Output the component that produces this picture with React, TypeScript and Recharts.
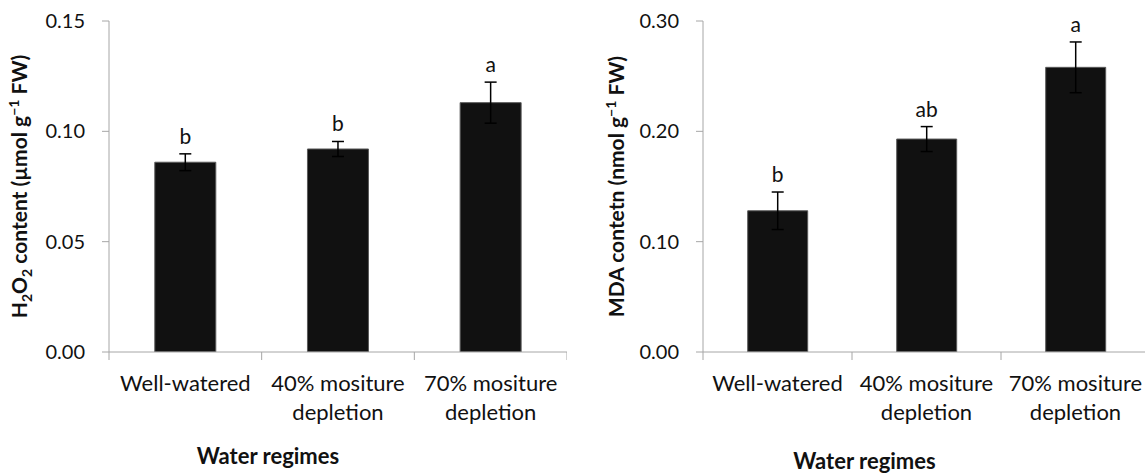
import React from 'react';
import { BarChart, Bar, XAxis, YAxis, ErrorBar, LabelList } from 'recharts';

// categories + tick text (split on two lines like the original figure)
const categories = ['Well-watered', '40% mositure depletion', '70% mositure depletion'];
const tickLines = [['Well-watered'], ['40% mositure', 'depletion'], ['70% mositure', 'depletion']];

// H2O2 content (µmol g-1 FW)
const h2o2Mean = [0.086, 0.092, 0.113];
const h2o2Se = [0.0038, 0.0034, 0.0093];
const h2o2Letters = ['b', 'b', 'a'];
const h2o2Ticks = [0, 0.05, 0.1, 0.15];

// MDA content (nmol g-1 FW)
const mdaMean = [0.128, 0.193, 0.258];
const mdaSe = [0.017, 0.0113, 0.023];
const mdaLetters = ['b', 'ab', 'a'];
const mdaTicks = [0, 0.1, 0.2, 0.3];

const FONT = 'Lato, "Open Sans", sans-serif';
const AXIS = '#a6a6a6';

const XTick = (props: any) => {
  const { x, y, payload, index, visibleTicksCount, width } = props;
  const half = payload.offset || width / categories.length / 2;
  const i = categories.indexOf(payload.value);
  const lines = tickLines[i] || [payload.value];
  const last = index === visibleTicksCount - 1;
  return (
    <g>
      <line x1={x - half} y1={y} x2={x - half} y2={y + 8} stroke={AXIS} />
      {last && <line x1={x + half} y1={y} x2={x + half} y2={y + 8} stroke={AXIS} />}
      <text x={x} textAnchor="middle" fill="#111" fontSize={22} fontFamily={FONT}>
        {lines.map((l, k) => (
          <tspan key={k} x={x} y={y + 39 + k * 29}>{l}</tspan>
        ))}
      </text>
    </g>
  );
};

const makeLetter = (means: number[], ses: number[]) => (props: any) => {
  const { x, y, width, height, value, index } = props;
  const errPx = (ses[index] * height) / means[index];
  return (
    <text x={x + width / 2} y={y - errPx - 10} textAnchor="middle" fill="#111" fontSize={21} fontFamily={FONT}>
      {value}
    </text>
  );
};

const YTitle = (props: any) => {
  const { viewBox, cx, children } = props;
  const px = viewBox.x + cx;
  const py = viewBox.y + viewBox.height / 2;
  return (
    <text x={px} y={py + 7} transform={`rotate(-90 ${px} ${py})`} textAnchor="middle" fill="#111"
      fontSize={21} fontWeight="bold" fontFamily={FONT}>
      {children}
    </text>
  );
};

const XTitle = (props: any) => {
  const { viewBox, dx, dy } = props;
  return (
    <text x={viewBox.x + viewBox.width / 2 + dx} y={viewBox.y + dy} textAnchor="middle" fill="#111"
      fontSize={22} fontWeight="bold" fontFamily={FONT}>
      Water regimes
    </text>
  );
};

const Panel = (props: any) => {
  const { means, ses, letters, ticks, max, yWidth, width, title, titleX, xdx, xdy } = props;
  const data = categories.map((c, i) => ({ name: c, mean: means[i], se: ses[i], letter: letters[i] }));
  return (
    <BarChart width={width} height={474} data={data} barCategoryGap="30%"
      margin={{ top: 21, right: 0, bottom: 0, left: 0 }}>
      <XAxis dataKey="name" interval={0} height={122} tickLine={false} tickSize={0} tickMargin={0}
        axisLine={{ stroke: AXIS }} tick={<XTick />}
        label={<XTitle dx={xdx} dy={xdy} />} />
      <YAxis domain={[0, max]} ticks={ticks} interval={0} width={yWidth} allowDataOverflow
        tickFormatter={(v: number) => v.toFixed(2)} tickSize={7} tickMargin={17}
        axisLine={{ stroke: AXIS }} tickLine={{ stroke: AXIS }}
        tick={{ fill: '#111', fontSize: 20, fontFamily: FONT }}
        label={<YTitle cx={titleX}>{title}</YTitle>} />
      <Bar dataKey="mean" fill="#111111" stroke="#5a5a5a" strokeWidth={1} isAnimationActive={false}>
        <ErrorBar dataKey="se" width={6} stroke="#000" strokeWidth={1.5} direction="y" />
        <LabelList dataKey="letter" content={makeLetter(means, ses)} />
      </Bar>
    </BarChart>
  );
};

const h2o2Title = [
  <tspan key="a">H</tspan>,
  <tspan key="b" fontSize={14} dy={5}>2</tspan>,
  <tspan key="c" dy={-5}>O</tspan>,
  <tspan key="d" fontSize={14} dy={5}>2</tspan>,
  <tspan key="e" dy={-5}> content (µmol g</tspan>,
  <tspan key="f" fontSize={14} dy={-8}>−1</tspan>,
  <tspan key="g" dy={8}>  FW)</tspan>,
];

const mdaTitle = [
  <tspan key="a">MDA contetn (nmol g</tspan>,
  <tspan key="b" fontSize={14} dy={-8}>−1</tspan>,
  <tspan key="c" dy={8}>  FW)</tspan>,
];

export default function App() {
  return (
    <div style={{ position: 'absolute', left: 0, top: 0, width: 1145, height: 474, overflow: 'hidden', background: '#fff' }}>
      <div style={{ position: 'absolute', left: 0, top: 0 }}>
        <Panel means={h2o2Mean} ses={h2o2Se} letters={h2o2Letters} ticks={h2o2Ticks} max={0.15}
          yWidth={109} width={567} title={h2o2Title} titleX={20} xdx={-70} xdy={112} />
      </div>
      <div style={{ position: 'absolute', left: 580, top: 0 }}>
        <Panel means={mdaMean} ses={mdaSe} letters={mdaLetters} ticks={mdaTicks} max={0.3}
          yWidth={123} width={570} title={mdaTitle} titleX={37} xdx={-62} xdy={117} />
      </div>
    </div>
  );
}
